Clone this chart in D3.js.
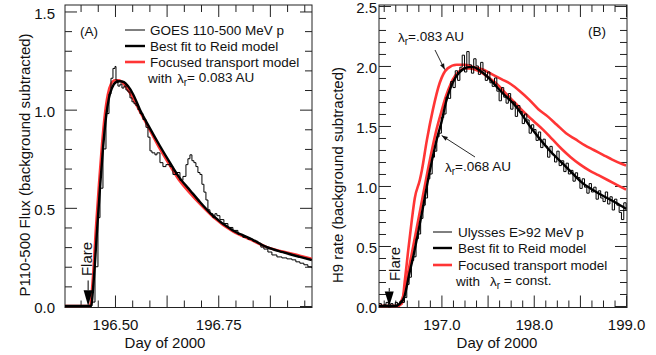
<!DOCTYPE html>
<html><head><meta charset="utf-8">
<script src="https://cdn.jsdelivr.net/npm/d3@7"></script>
<style>
html,body{margin:0;padding:0;background:#fff;}
svg{display:block;font-family:"Liberation Sans",Arial,Helvetica,sans-serif;}
</style></head><body>
<svg id="c" width="656" height="355"></svg>
<script>
// ---------- Panel A data ----------
const goesDay = [196.379,196.4395,196.4443,196.4516,196.4588,196.4637,196.4709,196.4782,196.4855,196.4903,196.4951,196.5000,196.5024,196.5072,196.5121,196.5169,196.5218,196.5266,196.5314,196.5363,196.5411,196.5460,196.5508,196.5556,196.5605,196.5677,196.5750,196.5798,196.5847,196.5895,196.5968,196.6016,196.6089,196.6161,196.6234,196.6331,196.6403,196.6476,196.6573,196.6645,196.6718,196.6766,196.6815,196.6863,196.6911,196.6960,196.7008,196.7057,196.7105,196.7153,196.7202,196.7250,196.7298,196.7371,196.7419,196.7468,196.7540,196.7637,196.7734,196.7855,196.7976,196.8097,196.8218,196.8339,196.8460,196.8532,196.8605,196.8702,196.8799,196.8920,196.9041,196.9162,196.9283,196.9379,196.9476,196.9573,196.9670,196.9766];
const goesVal = [0.0,0.0,0.02,0.2,0.45,0.6,0.8,0.98,1.08,1.16,1.21,1.22,1.15,1.12,1.13,1.11,1.12,1.10,1.09,1.06,1.04,1.03,1.02,1.0,0.98,0.95,0.91,0.86,0.79,0.78,0.77,0.78,0.73,0.71,0.72,0.71,0.67,0.68,0.64,0.66,0.72,0.75,0.77,0.74,0.73,0.71,0.68,0.67,0.62,0.58,0.54,0.49,0.47,0.45,0.47,0.46,0.44,0.42,0.40,0.385,0.365,0.35,0.34,0.33,0.32,0.30,0.29,0.275,0.26,0.25,0.245,0.24,0.235,0.225,0.218,0.21,0.20,0.193];
const reidDayA = [196.379,196.4419,196.4492,196.4564,196.4637,196.4709,196.4782,196.4855,196.4927,196.5024,196.5121,196.5218,196.5314,196.5435,196.5605,196.5847,196.6089,196.6331,196.6573,196.6815,196.7057,196.7371,196.7855,196.8266,196.8678,196.9065,196.9476,196.9766];
const reidValA = [0,0,0.15,0.38,0.6,0.8,0.96,1.06,1.11,1.14,1.145,1.14,1.12,1.08,1.0,0.905,0.815,0.73,0.65,0.59,0.53,0.46,0.385,0.345,0.30,0.274,0.25,0.234];
const focDayA = [196.379,196.4395,196.4468,196.4540,196.4613,196.4685,196.4758,196.4830,196.4903,196.5000,196.5097,196.5218,196.5363,196.5605,196.5847,196.6089,196.6331,196.6573,196.6815,196.7057,196.7371,196.7855,196.8266,196.8678,196.9065,196.9476,196.9766];
const focValA = [0,0,0.15,0.4,0.62,0.82,0.98,1.08,1.13,1.15,1.15,1.13,1.085,0.99,0.895,0.80,0.715,0.635,0.575,0.52,0.455,0.38,0.34,0.30,0.277,0.256,0.24];

// ---------- Panel B data ----------
const ulyDay = [196.325,196.350,196.375,196.400,196.425,196.450,196.475,196.500,196.525,196.550,196.575,196.600,196.625,196.650,196.675,196.700,196.725,196.750,196.775,196.800,196.825,196.850,196.875,196.900,196.925,196.950,196.975,197.000,197.025,197.050,197.075,197.100,197.125,197.150,197.175,197.200,197.225,197.250,197.275,197.300,197.325,197.350,197.375,197.400,197.425,197.450,197.475,197.500,197.525,197.550,197.575,197.600,197.625,197.650,197.675,197.700,197.725,197.750,197.775,197.800,197.825,197.850,197.875,197.900,197.925,197.950,197.975,198.000,198.025,198.050,198.075,198.100,198.125,198.150,198.175,198.200,198.225,198.250,198.275,198.300,198.325,198.350,198.375,198.400,198.425,198.450,198.475,198.500,198.525,198.550,198.575,198.600,198.625,198.650,198.675,198.700,198.725,198.750,198.775,198.800,198.825,198.850,198.875,198.900,198.925,198.950,198.975,199.000];
const ulyVal = [0.02,0.00,0.01,0.03,-0.01,0.02,0.00,0.03,0.01,0.04,0.03,0.07,0.18,0.24,0.38,0.41,0.56,0.60,0.73,0.84,0.90,1.06,1.10,1.24,1.29,1.41,1.44,1.57,1.60,1.74,1.73,1.87,1.82,1.96,1.88,1.99,2.09,1.95,2.12,2.01,1.94,2.06,2.00,1.93,2.03,1.96,1.88,1.95,1.86,1.83,1.90,1.79,1.71,1.82,1.74,1.69,1.77,1.64,1.70,1.58,1.67,1.62,1.52,1.60,1.55,1.44,1.51,1.47,1.38,1.45,1.32,1.39,1.33,1.24,1.33,1.26,1.20,1.29,1.17,1.21,1.12,1.19,1.10,1.13,1.04,1.11,1.07,0.98,1.06,0.99,0.94,1.02,0.95,0.99,0.89,0.96,0.90,0.87,0.95,0.85,0.91,0.80,0.89,0.84,0.78,0.72,0.86,0.80];
const reidDayB = [196.324,196.50,196.55,196.60,196.65,196.70,196.75,196.80,196.85,196.90,196.95,197.00,197.05,197.10,197.15,197.20,197.25,197.30,197.35,197.40,197.50,197.63,197.81,197.985,198.167,198.35,198.52,198.70,198.89,199.00];
const reidValB = [0,0,0.02,0.08,0.26,0.43,0.62,0.82,1.03,1.22,1.39,1.53,1.70,1.82,1.90,1.95,1.98,1.99,1.99,1.97,1.91,1.80,1.66,1.47,1.30,1.16,1.03,0.94,0.86,0.81];
const foc083Day = [196.324,196.52,196.572,196.605,196.637,196.680,196.712,196.766,196.788,196.842,196.906,196.982,197.068,197.165,197.25,197.35,197.45,197.55,197.65,197.75,197.85,197.95,198.05,198.15,198.25,198.35,198.45,198.55,198.65,198.75,198.85,198.95,199.00];
const foc083Val = [0,0,0.02,0.22,0.44,0.72,0.90,1.05,1.13,1.38,1.63,1.86,1.98,2.01,2.01,1.99,1.97,1.93,1.89,1.85,1.79,1.72,1.64,1.58,1.51,1.44,1.39,1.34,1.30,1.26,1.22,1.185,1.17];
const foc068Day = [196.324,196.52,196.56,196.60,196.65,196.70,196.75,196.80,196.85,196.90,196.95,197.00,197.05,197.10,197.15,197.20,197.25,197.30,197.40,197.50,197.60,197.70,197.80,197.90,198.00,198.10,198.20,198.30,198.40,198.50,198.60,198.70,198.80,198.90,199.00];
const foc068Val = [0,0,0.03,0.12,0.32,0.52,0.72,0.92,1.12,1.31,1.48,1.62,1.75,1.85,1.92,1.96,1.98,1.98,1.96,1.91,1.85,1.77,1.69,1.61,1.54,1.47,1.39,1.31,1.24,1.18,1.13,1.09,1.05,1.01,0.97];

// ---------- ticks ----------
const xMajorA = [196.5,196.625,196.75,196.875];
const xLabelA = [196.5,196.75];
const xMinorA = [196.4167,196.4583,196.5417,196.5833,196.6667,196.7083,196.7917,196.8333,196.9167,196.9583];
const yMajorA = [0,0.5,1.0,1.5];
const yMinorA = [0.1,0.2,0.3,0.4,0.6,0.7,0.8,0.9,1.1,1.2,1.3,1.4];
const xMajorB = [197.0,197.5,198.0,198.5,199.0];
const xLabelB = [197.0,198.0,199.0];
const xMinorB = [196.375,196.5,196.625,196.75,196.875,197.125,197.25,197.375,197.625,197.75,197.875,198.125,198.25,198.375,198.625,198.75,198.875];
const yMajorB = [0,0.5,1.0,1.5,2.0,2.5];
const yMinorB = [0.1,0.2,0.3,0.4,0.6,0.7,0.8,0.9,1.1,1.2,1.3,1.4,1.6,1.7,1.8,1.9,2.1,2.2,2.3,2.4];

const flareDay = 196.435;
const RED = "#ff3535";

const svg = d3.select("#c");
svg.append("rect").attr("width",656).attr("height",355).attr("fill","#fff");

function drawPanel(o){
  const g = svg.append("g");
  const x = o.x, y = o.y;
  const [x0,x1] = x.range(), [y0,y1] = y.range();
  const id = "clip"+o.name;
  svg.append("clipPath").attr("id",id).append("rect")
    .attr("x",x0).attr("y",y1).attr("width",x1-x0).attr("height",y0-y1);
  const axes = [];
  axes.push(g.append("g").attr("transform",`translate(0,${y0})`)
    .call(d3.axisBottom(x).tickValues(o.xMajor).tickSize(-12).tickPadding(12)
      .tickFormat(d => o.xLabel.includes(d) ? o.xFmt(d) : "")));
  axes.push(g.append("g").attr("transform",`translate(0,${y0})`)
    .call(d3.axisBottom(x).tickValues(o.xMinor).tickSize(-7).tickFormat("")));
  axes.push(g.append("g").attr("transform",`translate(0,${y1})`)
    .call(d3.axisTop(x).tickValues(o.xMajor).tickSize(-12).tickFormat("")));
  axes.push(g.append("g").attr("transform",`translate(0,${y1})`)
    .call(d3.axisTop(x).tickValues(o.xMinor).tickSize(-7).tickFormat("")));
  const yl = g.append("g").attr("transform",`translate(${x0},0)`)
    .call(d3.axisLeft(y).tickValues(o.yMajor).tickSize(-12).tickPadding(o.yPad).tickFormat(d3.format(".1f")));
  axes.push(yl);
  axes.push(g.append("g").attr("transform",`translate(${x0},0)`)
    .call(d3.axisLeft(y).tickValues(o.yMinor).tickSize(-7).tickFormat("")));
  axes.push(g.append("g").attr("transform",`translate(${x1},0)`)
    .call(d3.axisRight(y).tickValues(o.yMajor).tickSize(-12).tickFormat("")));
  axes.push(g.append("g").attr("transform",`translate(${x1},0)`)
    .call(d3.axisRight(y).tickValues(o.yMinor).tickSize(-7).tickFormat("")));
  axes.forEach(a => {
    a.select(".domain").remove();
    a.selectAll("line").attr("stroke","#222").attr("stroke-width",1);
    a.selectAll("text").attr("font-family",null).attr("font-size",15).attr("fill","#111");
    a.attr("font-family",null).attr("font-size",null);
  });
  yl.selectAll("text").attr("dy","0.44em");
  g.append("rect").attr("x",x0).attr("y",y1).attr("width",x1-x0).attr("height",y0-y1)
    .attr("fill","none").attr("stroke","#222").attr("stroke-width",1);
  const plot = g.append("g").attr("clip-path",`url(#${id})`);
  return {g, plot};
}

function line(x,y,curve){
  return d3.line().x(d=>x(d[0])).y(d=>y(d[1])).curve(curve||d3.curveMonotoneX);
}
const zip = (a,b) => a.map((d,i)=>[d,b[i]]);

// ---------- Panel A ----------
const xA = d3.scaleLinear().domain([196.379,196.977]).range([65,312]);
const yA = d3.scaleLinear().domain([-0.0076,1.533]).range([307.5,5]);
const A = drawPanel({name:"A",x:xA,y:yA,xMajor:xMajorA,xLabel:xLabelA,xMinor:xMinorA,
  yMajor:yMajorA,yMinor:yMinorA,xFmt:d3.format(".2f"),yPad:10});
A.plot.append("path").attr("d",line(xA,yA)(zip(focDayA,focValA)))
  .attr("fill","none").attr("stroke",RED).attr("stroke-width",2.6);
A.plot.append("path").attr("d",line(xA,yA)(zip(reidDayA,reidValA)))
  .attr("fill","none").attr("stroke","#000").attr("stroke-width",2.4);
A.plot.append("path").attr("d",line(xA,yA,d3.curveStepAfter)(zip(goesDay,goesVal)))
  .attr("fill","none").attr("stroke","#000").attr("stroke-width",1);

// ---------- Panel B ----------
const xB = d3.scaleLinear().domain([196.324,199.01]).range([379,627]);
const yB = d3.scaleLinear().domain([-0.0125,2.508]).range([307.5,5]);
const B = drawPanel({name:"B",x:xB,y:yB,xMajor:xMajorB,xLabel:xLabelB,xMinor:xMinorB,
  yMajor:yMajorB,yMinor:yMinorB,xFmt:d3.format(".1f"),yPad:2});
B.plot.append("path").attr("d",line(xB,yB)(zip(foc083Day,foc083Val)))
  .attr("fill","none").attr("stroke",RED).attr("stroke-width",2.6);
B.plot.append("path").attr("d",line(xB,yB)(zip(foc068Day,foc068Val)))
  .attr("fill","none").attr("stroke",RED).attr("stroke-width",2.6);
B.plot.append("path").attr("d",line(xB,yB)(zip(reidDayB,reidValB)))
  .attr("fill","none").attr("stroke","#000").attr("stroke-width",2.4);
B.plot.append("path").attr("d",line(xB,yB,d3.curveStepAfter)(zip(ulyDay,ulyVal)))
  .attr("fill","none").attr("stroke","#000").attr("stroke-width",1);

// ---------- axis titles ----------
const T = svg.append("g").attr("fill","#111").attr("font-size",15);
T.append("text").attr("x",165).attr("y",348).attr("text-anchor","middle").text("Day of 2000");
T.append("text").attr("x",497).attr("y",348).attr("text-anchor","middle").text("Day of 2000");
T.append("text").attr("transform","translate(30,165) rotate(-90)").attr("text-anchor","middle").text("P110-500 Flux (background subtracted)");
T.append("text").attr("transform","translate(343,175) rotate(-90)").attr("text-anchor","middle").text("H9 rate (background subtracted)");

// ---------- panel labels ----------
svg.append("text").attr("x",80).attr("y",36).attr("font-size",13.5).attr("fill","#111").text("(A)");
svg.append("text").attr("x",588).attr("y",36).attr("font-size",13.5).attr("fill","#111").text("(B)");

// ---------- legends ----------
function legend(x0,x1,tx,rows,withY,withTxt){
  const L = svg.append("g").attr("font-size",13.5).attr("fill","#111");
  rows.forEach(r=>{
    L.append("line").attr("x1",x0).attr("x2",x1).attr("y1",r.y).attr("y2",r.y)
      .attr("stroke",r.c).attr("stroke-width",r.w);
    L.append("text").attr("x",tx).attr("y",r.y).attr("dy","0.35em").text(r.t);
  });
  const t = L.append("text").attr("x",tx-2).attr("y",withY).attr("dy","0.35em");
  t.append("tspan").text("with");
  t.append("tspan").attr("x",withTxt[0]).text("\u03bb");
  t.append("tspan").attr("dy","0.3em").attr("font-size",10).text("r");
  t.append("tspan").attr("dy","-0.3em").text(withTxt[1]);
}
legend(125,145,150,[
  {y:30,c:"#000",w:1,t:"GOES 110-500 MeV p"},
  {y:46,c:"#000",w:2.4,t:"Best fit to Reid model"},
  {y:62,c:RED,w:2.6,t:"Focused transport model"}],78,[177,"= 0.083 AU"]);
legend(433,452,458,[
  {y:232,c:"#000",w:1,t:"Ulysses E>92 MeV p"},
  {y:248,c:"#000",w:2.4,t:"Best fit to Reid model"},
  {y:265,c:RED,w:2.6,t:"Focused transport model"}],281,[490," = const."]);

// ---------- lambda annotations (panel B) ----------
function arrow(x1,y1,x2,y2){
  svg.append("line").attr("x1",x1).attr("y1",y1).attr("x2",x2).attr("y2",y2)
    .attr("stroke","#111").attr("stroke-width",0.9);
  const a = Math.atan2(y2-y1,x2-x1), L=6, W=2.2;
  const bx = x2-L*Math.cos(a), by = y2-L*Math.sin(a);
  svg.append("path").attr("d",`M${x2},${y2}L${bx+W*Math.sin(a)},${by-W*Math.cos(a)}L${bx-W*Math.sin(a)},${by+W*Math.cos(a)}Z`)
    .attr("fill","#111");
}
function lamText(x,y,rest){
  const t = svg.append("text").attr("x",x).attr("y",y).attr("dy","0.35em").attr("font-size",13.5).attr("fill","#111");
  t.append("tspan").text("\u03bb");
  t.append("tspan").attr("dy","0.3em").attr("font-size",10).text("r");
  t.append("tspan").attr("dy","-0.3em").text(rest);
}
lamText(398,37,"=.083 AU");
arrow(435,50,xB(197.036),yB(1.97));
lamText(445,167,"=.068 AU");
arrow(475,157,xB(197.003),yB(1.42));

// ---------- flare arrows ----------
function flare(x,yTop,yHead,yTip,tx,ty){
  svg.append("line").attr("x1",x).attr("x2",x).attr("y1",yTop).attr("y2",yHead)
    .attr("stroke","#000").attr("stroke-width",1);
  svg.append("path").attr("d",`M${x-4.5},${yHead}L${x+4.5},${yHead}L${x},${yTip}Z`).attr("fill","#000");
  svg.append("text").attr("transform",`translate(${tx},${ty}) rotate(-90)`)
    .attr("text-anchor","middle").attr("dy","0.35em").attr("font-size",15).attr("fill","#111").text("Flare");
}
flare(xA(flareDay),yA(0.13),yA(0.08),yA(0),xA(flareDay)-1,259);
flare(xB(flareDay),yB(0.15),yB(0.12),yB(0),xB(flareDay)+6,264);
</script>
</body></html>
